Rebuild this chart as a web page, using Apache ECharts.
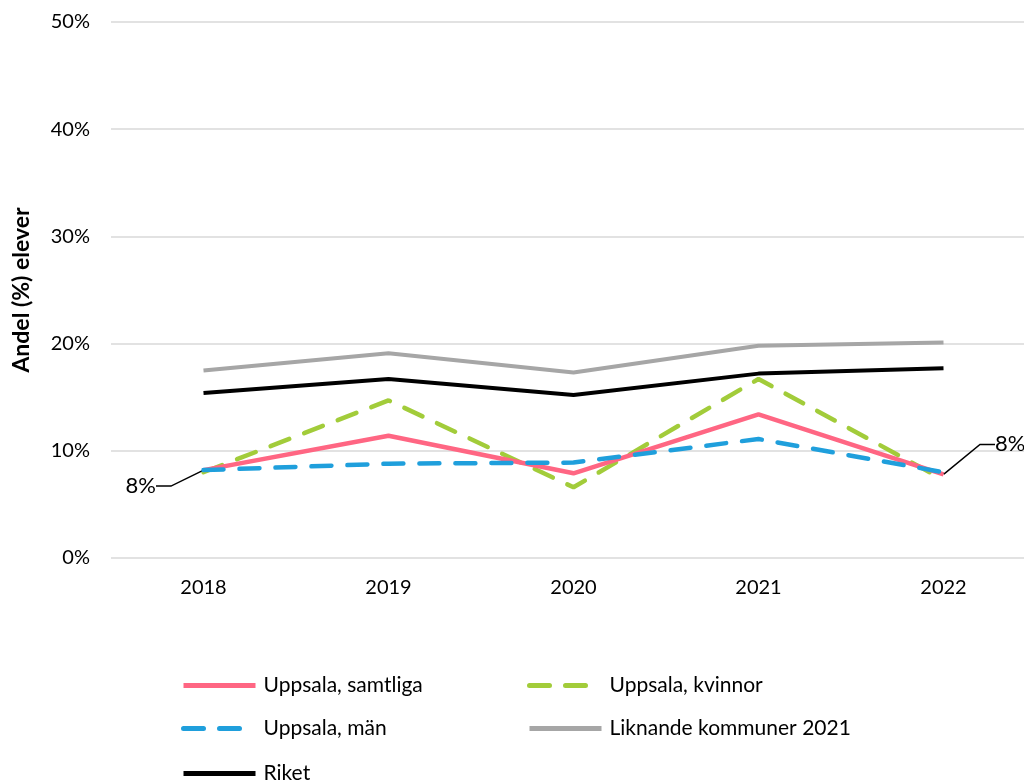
<!DOCTYPE html>
<html>
<head>
<meta charset="utf-8">
<script src="https://cdn.jsdelivr.net/npm/echarts@6/dist/echarts.min.js"></script>
<style>
  html, body { margin: 0; padding: 0; background: #fff; }
  #chart { width: 1024px; height: 781px; }
</style>
</head>
<body>
<div id="chart"></div>
<script>
  // data (percent)
  var years = ['2018', '2019', '2020', '2021', '2022']
  var samtliga = [8.2, 11.4, 7.9, 13.4, 7.8]
  var kvinnor = [8.0, 14.7, 6.6, 16.7, 7.3]
  var man = [8.2, 8.8, 8.9, 11.1, 8.0]
  var liknande = [17.5, 19.1, 17.3, 19.8, 20.1]
  var riket = [15.4, 16.7, 15.2, 17.2, 17.7]
  var labelled = [0, 4] // samtliga points with a value label

  var font = 'Lato, "Open Sans", sans-serif'

  var chart = echarts.init(document.getElementById('chart'), null, {renderer: 'canvas'})

  function lineSeries(name, data, color, dashed, z) {
    return {
      name: name,
      type: 'line',
      data: data,
      symbol: 'none',
      z: z,
      lineStyle: {
        color: color,
        width: dashed ? 4.5 : 4,
        type: dashed ? [20, 16] : 'solid',
        cap: dashed ? 'round' : 'butt'
      },
      itemStyle: {color: color},
      animation: false
    }
  }

  var pink = lineSeries('Uppsala, samtliga', samtliga.map(function (v, i) {
    if (labelled.indexOf(i) < 0) return {value: v, symbol: 'none'}
    return {
      value: v,
      label: {
        show: true,
        position: i === 0 ? 'left' : 'right',
        formatter: Math.round(v) + '%',
        color: '#000',
        fontSize: 22,
        fontFamily: font
      },
      labelLine: {show: true, length2: 15, lineStyle: {color: '#000', width: 1.5}}
    }
  }), '#ff6683', false, 4)
  pink.lineStyle.width = 4.5
  pink.symbol = 'circle'
  pink.symbolSize = 1
  pink.showSymbol = true
  pink.labelLayout = function (p) {
    if (p.dataIndex === 0) return {dx: -42, dy: 16}
    return {dx: 46, dy: -30}
  }

  var legendBase = {
    orient: 'vertical',
    top: 675,
    padding: 0,
    itemWidth: 72,
    itemHeight: 16,
    itemGap: 22,
    itemStyle: {opacity: 0},
    lineStyle: {width: 5},
    textStyle: {color: '#000', fontSize: 21, lineHeight: 16, fontFamily: font, padding: [0, 0, 0, 3]}
  }

  var option = {
    backgroundColor: '#fff',
    grid: {left: 111, right: -12, top: 22, bottom: 223, outerBoundsMode: 'none'},
    xAxis: {
      type: 'category',
      data: years,
      axisLine: {show: false},
      axisTick: {show: false},
      axisLabel: {color: '#000', fontSize: 20, fontFamily: font, margin: 20}
    },
    yAxis: {
      type: 'value',
      min: 0,
      max: 50,
      interval: 10,
      name: 'Andel (%) elever',
      nameLocation: 'middle',
      nameGap: 78,
      nameTextStyle: {color: '#000', fontSize: 23, fontWeight: 'bold', fontFamily: font},
      axisLabel: {color: '#000', fontSize: 20, fontFamily: font, margin: 21, formatter: '{value}%'},
      splitLine: {lineStyle: {color: '#d9d9d9', width: 1.5}}
    },
    legend: [
      Object.assign({}, legendBase, {left: 181, data: ['Uppsala, samtliga', 'Uppsala, män']}),
      Object.assign({}, legendBase, {left: 181, top: 763, data: ['Riket']}),
      Object.assign({}, legendBase, {left: 527, data: ['Uppsala, kvinnor', 'Liknande kommuner 2021']})
    ],
    series: [
      lineSeries('Liknande kommuner 2021', liknande, '#a6a6a6', false, 1),
      lineSeries('Riket', riket, '#000000', false, 2),
      lineSeries('Uppsala, kvinnor', kvinnor, '#a2cc3a', true, 3),
      pink,
      lineSeries('Uppsala, män', man, '#1f9fdc', true, 5)
    ]
  }

  chart.setOption(option)
</script>
</body>
</html>
